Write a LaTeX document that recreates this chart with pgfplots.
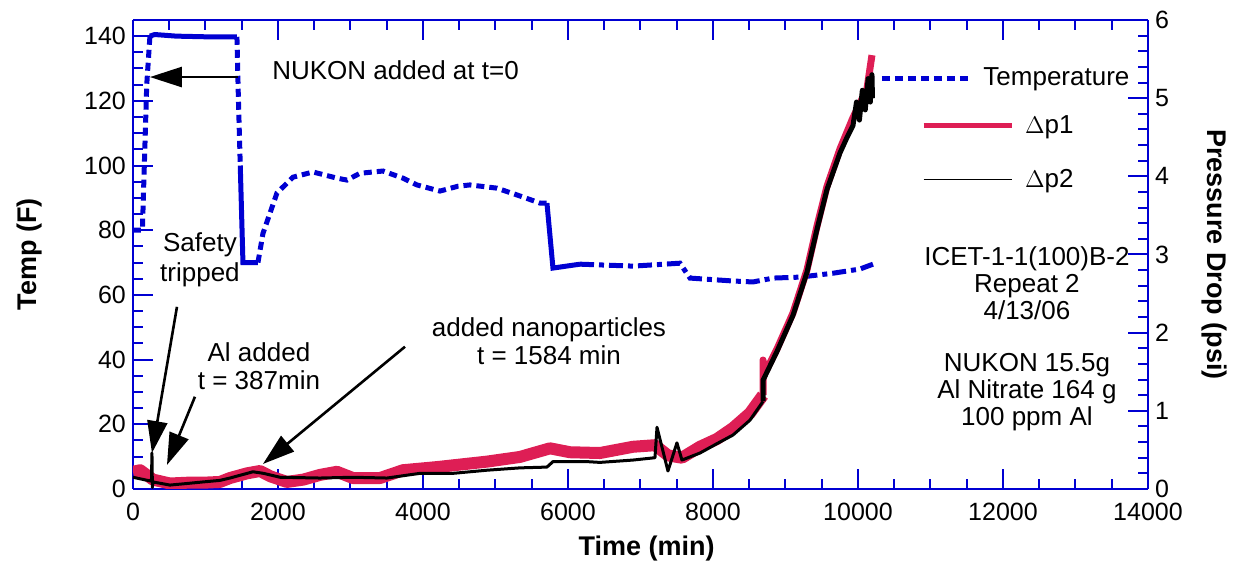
\documentclass[border=0pt]{standalone}
\usepackage{fontspec}
\setmainfont{Liberation Sans}
\usepackage{pgfplots}
\pgfplotsset{compat=1.18}
\usetikzlibrary{arrows.meta}

\definecolor{axblue}{RGB}{0,0,210}
\definecolor{dpone}{RGB}{222,30,85}

\pgfplotsset{
  frame/.style={
    scale only axis, width=507.5pt, height=234.5pt,
    xmin=0, xmax=14000,
    axis line style={axblue, line width=1pt},
    tick style={axblue, line width=1pt},
    major tick length=10pt, minor tick length=5pt,
    tick align=inside,
    ticklabel style={font=\fontsize{12.5}{14}\selectfont, black},
    /pgf/number format/assume math mode=true,
    label style={font=\bfseries\fontsize{13.5}{16}\selectfont},
    legend style={draw=none, fill=none, inner sep=0pt,
      font=\fontsize{13}{15}\selectfont},
    legend cell align=left,
    legend image code/.code={\draw[##1] (0pt,0pt) -- (44pt,0pt); \path (47.5pt,0pt);},
  },
  tempdash/.style={axblue, line width=2.5pt, dash pattern=on 4pt off 2.5pt},
  tempsolid/.style={axblue, line width=2.5pt},
  tempdashdot/.style={axblue, line width=2.5pt, dash pattern=on 7pt off 2.5pt on 2.5pt off 2.5pt},
}

\begin{document}
\begin{tikzpicture}
\begin{axis}[frame,
  ymin=0, ymax=145, axis y line*=left,
  ytick={0,20,...,140}, minor y tick num=3,
  xtick={0,2000,...,14000}, minor x tick num=3,
  scaled x ticks=false,
  xticklabel style={/pgf/number format/1000 sep={}, yshift=-3.5pt},
  xlabel={Time (min)}, ylabel={Temp (F)},
  xlabel style={at={(axis description cs:0.506,-0.126)}, anchor=center},
  ylabel style={at={(axis description cs:-0.1015,0.5)}, anchor=center},
  legend style={at={(axis description cs:0.735,0.876)}, anchor=west},
]
% temperature, split where the line style changes
\addplot[tempdash, forget plot] coordinates {(0,80) (130,80) (150,95) (190,125) (234,140)};
\addplot[tempsolid, forget plot] coordinates {(234,140) (300,140.5) (600,140) (1000,139.8) (1434,139.8)};
\addplot[tempdash, forget plot] coordinates {(1434,139.8) (1455,120) (1480,100)};
\addplot[tempsolid, forget plot] coordinates {(1480,100) (1517,70) (1724,70)};
\addplot[tempdash, forget plot] coordinates {(1724,70) (1793,79) (1986,91.5) (2207,96.4) (2483,98)
  (2814,96.1) (2952,95.5) (3131,97.6) (3448,98.3) (3724,96.1) (3917,94) (4234,92.1)
  (4483,93.6) (4648,94) (5021,93) (5297,90.9) (5614,88.4) (5710,88.4)};
\addplot[tempsolid, forget plot] coordinates {(5710,88.4) (5793,68.3) (6166,69.5)};
\addplot[tempdashdot, forget plot] coordinates {(6166,69.5) (6897,68.9) (7545,69.8) (7683,65.2)
  (8276,64.3) (8552,64) (8828,65.2) (9200,65.5) (9655,66.7) (10028,68) (10207,69.5)};
\addlegendimage{tempdash}
\addlegendentry{Temperature}
\coordinate (bbsw) at (axis description cs:-0.1310,-0.1578);
\coordinate (bbne) at (axis description cs:1.0887,1.0426);
\end{axis}

\begin{axis}[frame,
  ymin=0, ymax=6, axis y line*=right, axis x line=none,
  ytick={0,1,...,6}, minor y tick num=4,
  ylabel={Pressure Drop (psi)},
  ylabel style={at={(axis description cs:1.066,0.5)}, anchor=center, rotate=180},
  legend style={at={(axis description cs:0.776,0.7165)}, anchor=west, row sep=12.5pt},
]
\addplot[dpone, line width=6pt, line join=round, forget plot] coordinates {
  (0,0.22) (100,0.24) (276,0.12) (510,0.07) (745,0.08) (966,0.08) (1200,0.09) (1338,0.14)
  (1572,0.20) (1752,0.23) (1900,0.16) (2124,0.09) (2350,0.12) (2579,0.18) (2814,0.22)
  (3034,0.14) (3407,0.14) (3724,0.24) (4193,0.28) (4883,0.35) (5338,0.41) (5752,0.52)
  (6028,0.47) (6441,0.46) (6897,0.54) (7200,0.56) (7379,0.43) (7572,0.40) (7821,0.54)
  (8055,0.64) (8276,0.78) (8510,0.97) (8690,1.20)};
\addplot[dpone, line width=3.5pt, line join=round, forget plot] coordinates {
  (8690,1.20) (8690,1.65) (8700,1.45) (8883,1.79) (9103,2.25) (9296,2.80) (9434,3.36)
  (9572,3.87) (9752,4.35) (9931,4.75) (10124,5.12) (10193,5.55)};
\addplot[black, line width=1.5pt, line join=round, forget plot] coordinates {
  (0,0.15) (150,0.12) (255,0.10) (262,0.46) (268,0.02) (276,0.09) (510,0.05) (745,0.07)
  (966,0.09) (1200,0.11) (1338,0.14) (1655,0.22) (1800,0.20) (2028,0.15) (2579,0.14)
  (3034,0.15) (3503,0.14) (3959,0.20) (4414,0.20) (4883,0.24) (5338,0.27) (5710,0.28)
  (5793,0.35) (6262,0.35) (6441,0.34) (6897,0.37) (7200,0.40) (7228,0.79) (7379,0.23)
  (7503,0.59) (7572,0.37) (7821,0.46) (8055,0.58) (8276,0.69) (8510,0.88) (8690,1.12)};
\addplot[black, line width=2.5pt, line join=round, forget plot] coordinates {
  (8690,1.12) (8690,1.39) (8883,1.76) (9103,2.22) (9296,2.77) (9434,3.32) (9572,3.83)
  (9752,4.30) (9850,4.50) (9931,4.65) (9980,4.95) (10020,4.72) (10060,5.10) (10100,4.85)
  (10140,5.25) (10170,4.95) (10193,5.30) (10200,5.00)};
\addlegendimage{dpone, line width=2.5pt}
\addlegendentry{$\Delta$p1}
\addlegendimage{black, line width=0.6pt}
\addlegendentry{$\Delta$p2}

% annotations
\tikzset{ann/.style={black, line width=1.3pt, -{Triangle[length=16pt,width=10pt]}}}
\draw[ann] (axis cs:1448,5.27) -- (axis cs:234,5.27);
\node[anchor=west, inner sep=0pt, font=\fontsize{13}{15}\selectfont] at (axis cs:1917,5.36) {NUKON added at t=0};
\draw[ann] (axis cs:607,2.33) -- (axis cs:262,0.46);
\node[align=center, font=\fontsize{13}{15}\selectfont] at (axis cs:924,2.93) {Safety\\tripped};
\draw[ann] (axis cs:855,1.18) -- (axis cs:469,0.307);
\node[align=center, font=\fontsize{13}{14}\selectfont] at (axis cs:1738,1.573) {Al added\\t = 387min};
\draw[ann] (axis cs:3752,1.82) -- (axis cs:1793,0.32);
\node[align=center, font=\fontsize{13}{14}\selectfont] at (axis cs:5738,1.893) {added nanoparticles\\t = 1584 min};
\node[align=center, font=\fontsize{13}{13.5}\selectfont] at (axis cs:12331,2.635) {ICET-1-1(100)B-2\\Repeat 2\\4/13/06};
\node[align=center, font=\fontsize{13}{13.5}\selectfont] at (axis cs:12331,1.24) {NUKON 15.5g\\Al Nitrate 164 g\\100 ppm Al};
\end{axis}
\pgfresetboundingbox
\path (bbsw) rectangle (bbne);
\end{tikzpicture}
\end{document}
